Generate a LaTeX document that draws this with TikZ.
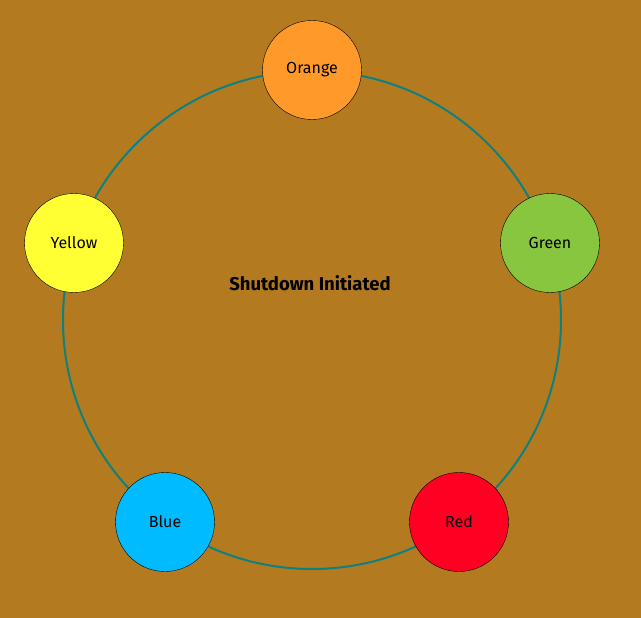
\documentclass[tikz,border=0pt]{standalone}
\usepackage{fontspec}
\setmainfont{Fira Sans}
\definecolor{bgbrown}{HTML}{B37A20}
\definecolor{ringteal}{HTML}{0F8080}
\definecolor{corange}{HTML}{FF9A2A}
\definecolor{cgreen}{HTML}{88C63F}
\definecolor{cred}{HTML}{FF0022}
\definecolor{cblue}{HTML}{00BBFF}
\definecolor{cyellow}{HTML}{FFFF33}
\tikzset{every node/.style={circle,draw,minimum size=99pt,inner sep=0pt,font=\fontsize{16}{19}\selectfont}}
\begin{document}
\begin{tikzpicture}[x=1pt,y=-1pt]
      \fill[bgbrown] (0,0) rectangle (641,618);
      \useasboundingbox (0,0) rectangle (641,618);
      \draw[ringteal,line width=2pt] (312,320) circle (249);

      \node[fill=corange] (O) at (312,70) {Orange};
      \node[fill=cgreen] (G) at (550,243) {Green};
      \node[fill=cred] (R) at (459,522) {Red};
      \node[fill=cblue] (B) at (165,522) {Blue};
      \node[fill=cyellow] (Y) at (74,243) {Yellow};

      \node[draw=none,minimum size=0pt,font=\fontsize{18.5}{22}\selectfont\bfseries] (title) at (310,283) {Shutdown Initiated};
    \end{tikzpicture}
\end{document}
